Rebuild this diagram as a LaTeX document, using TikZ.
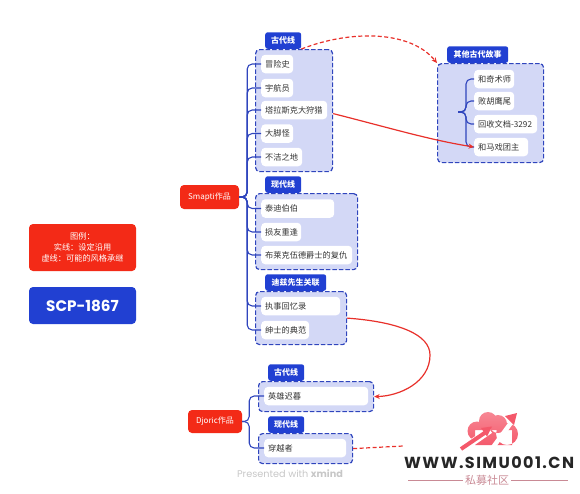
\documentclass[tikz,border=0pt]{standalone}
\usepackage{fontspec}
\setmainfont{Noto Sans CJK SC}
\newfontfamily\pop{Poppins}
\usetikzlibrary{calc,arrows.meta}
\definecolor{xred}{HTML}{F32A17}
\definecolor{xblue}{HTML}{2140D2}
\definecolor{xline}{HTML}{2F45BD}
\definecolor{xfill}{HTML}{D3D8F6}
\definecolor{xtext}{HTML}{333333}
\definecolor{xarrow}{HTML}{E8302A}
\definecolor{wmpink}{HTML}{F4586A}
\definecolor{wmgray}{HTML}{C98A95}
\tikzset{
 itembox/.style={fill=white,rounded corners=4pt,anchor=west,inner xsep=4pt,inner ysep=0pt,minimum height=18.5pt,text width=#1,align=left,font=\fontsize{8.2}{10}\selectfont,text=xtext},
 tagbox/.style={fill=xblue,text=white,rounded corners=2.5pt,anchor=south west,inner sep=0pt,minimum width=#1,minimum height=16.5pt,font=\fontsize{8}{10}\selectfont\bfseries},
 groupbox/.style n args={2}{draw=xline,fill=xfill,dash pattern=on 4.5pt off 2pt,line width=1.2pt,rounded corners=4pt,anchor=north west,inner sep=0pt,minimum width=#1,minimum height=#2},
 topicbox/.style={fill=xred,text=white,rounded corners=4pt,inner sep=0pt,font=\fontsize{8}{10}\selectfont},
 branch/.style={draw=xline,line width=1.1pt,rounded corners=5pt},
 solidlink/.style={draw=xarrow,line width=1.2pt,-{Stealth[length=5.5pt,width=5pt]}},
 dashlink/.style={draw=xarrow,line width=1.2pt,dash pattern=on 4pt off 2.5pt},
}
\begin{document}
\begin{tikzpicture}[x=1pt,y=-1pt]
\useasboundingbox (0,0) rectangle (580,493);
% legend
\node[fill=xred,text=white,rounded corners=4pt,minimum width=107pt,minimum height=47pt,inner sep=0pt,align=center,font=\fontsize{8.2}{11.2}\selectfont] (legend) at (82.5,247.5) {图例：\\实线：设定沿用\\虚线：可能的风格承继};
\node[fill=xblue,text=white,rounded corners=4pt,minimum width=107pt,minimum height=37pt,inner sep=0pt,font=\fontsize{15.2}{18}\selectfont\pop\bfseries] (title) at (82.5,305.5) {SCP-1867};
% groups
\node[groupbox={77pt}{122pt}] (g1) at (255,49) {};
\node[tagbox=36pt] (t1) at (265,49) {古代线};
\node[groupbox={102pt}{76pt}] (g2) at (255,193) {};
\node[tagbox=36pt] (t2) at (265,193) {现代线};
\node[groupbox={91pt}{53pt}] (g3) at (255,291) {};
\node[tagbox=61pt] (t3) at (265,291) {迪兹先生关联};
\node[groupbox={115pt}{30pt}] (g4) at (258,381) {};
\node[tagbox=36pt] (t4) at (268,381) {古代线};
\node[groupbox={94pt}{30pt}] (g5) at (258,433) {};
\node[tagbox=36pt] (t5) at (268,433) {现代线};
\node[groupbox={106pt}{99pt}] (g6) at (437,63) {};
\node[tagbox=61pt] (t6) at (447,63) {其他古代故事};
% topics
\node[topicbox,minimum width=59pt,minimum height=24pt] (sm) at (209.5,197) {Smapti作品};
\node[topicbox,minimum width=54pt,minimum height=23pt] (dj) at (215,421.5) {Djoric作品};
\coordinate (six) at (458,112);
% items
\node[itembox=24pt] (a1) at (261,64) {冒险史};
\node[itembox=24pt] (a2) at (261,88) {宇航员};
\node[itembox=58pt] (a3) at (261,110) {塔拉斯克大狩猎};
\node[itembox=24pt] (a4) at (261,133.5) {大脚怪};
\node[itembox=33pt] (a5) at (261,157) {不洁之地};
\node[itembox=65pt] (b1) at (261,208.5) {泰迪伯伯};
\node[itembox=32pt] (b2) at (261,232) {损友重逢};
\node[itembox=83pt] (b3) at (261,255) {布莱克伍德爵士的复仇};
\node[itembox=71pt] (c1) at (261,306) {执事回忆录};
\node[itembox=40pt] (c2) at (261,330) {绅士的典范};
\node[itembox=96pt] (d1) at (264,396) {英雄迟暮};
\node[itembox=74pt] (e1) at (264,448) {穿越者};
\node[itembox=32pt] (f1) at (474,79) {和奇术师};
\node[itembox=32pt] (f2) at (474,101) {败胡鹰尾};
\node[itembox=55pt] (f3) at (474,124) {回收文档-3292};
\node[itembox=46pt] (f4) at (474,147) {和马戏团主};
% branches
\foreach \n in {a1,a2,a3,a4,a5,b1,b2,b3,c1,c2}
  \draw[branch] (sm.east) -- ($(sm.east)+(8,0)$) |- (\n.west);
\foreach \n in {d1,e1}
  \draw[branch] (dj.east) -- ($(dj.east)+(7,0)$) |- (\n.west);
\foreach \n in {f1,f2,f3,f4}
  \draw[branch] (six) -- ($(six)+(8,0)$) |- (\n.west);
% relations
\draw[dashlink,-{Stealth[length=5.5pt,width=5pt]}] (t1.south east) .. controls (350,30) and (410,30) .. (g6.north west);
\draw[solidlink] (g1.east) ++(0,3) .. controls (390,128) and (430,140) .. (f4.west);
\draw[solidlink] (g3.east) .. controls (400,322) and (430,335) .. (430,355) .. controls (430,382) and (400,396) .. (g4.east);
\coordinate (free) at (403,446);
\draw[dashlink] (g5.east) -- (free);
% footer
\node[text=black!22,font=\fontsize{9.7}{11}\selectfont\pop] (foot) at (290,474) {Presented with \textbf{xmind}};
% watermark
\begin{scope}
\clip (477,431) circle (9.5) (488,421) circle (9) (498,424) circle (9) (507,434) circle (11) (475,430) rectangle (512,445);
\shade[top color=wmpink!70,bottom color=wmpink] (465,410) rectangle (520,447);
\end{scope}
\draw[white,line width=4.5pt] (491,450) -- (513,420);
\draw[white,line width=7pt] (470,444) -- (490,430);
\draw[wmpink,line width=4pt] (461,449) -- (486,432);
\fill[wmpink] (492,426.5) -- (481,428) -- (487,436.5) -- cycle;
\fill[wmpink] (517,413) -- (505,416) -- (514,425) -- cycle;
\node[font=\fontsize{16}{18}\selectfont\pop\bfseries,text=black!85,inner sep=0pt,anchor=west] (wm) at (404,463) {\addfontfeature{LetterSpace=9}WWW.SIMU001.CN};
\node[font=\fontsize{11}{13}\selectfont,text=wmgray,inner sep=0pt] (wm2) at (487,480) {私募社区};
\draw[wmgray,line width=0.9pt] (408,480) -- ($(wm2.west)+(-2,0)$);
\draw[wmgray,line width=0.9pt] ($(wm2.east)+(2,0)$) -- (568,480);
\end{tikzpicture}
\end{document}
